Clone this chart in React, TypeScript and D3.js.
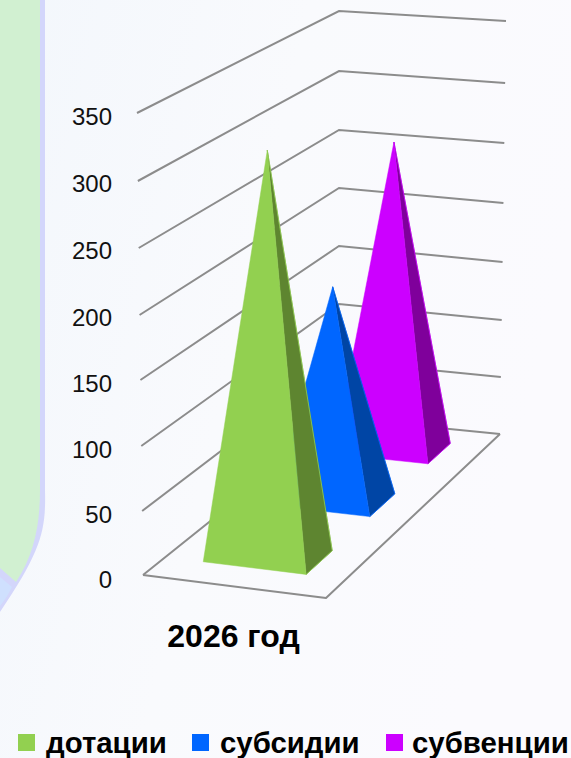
import React from "react";
import * as d3 from "d3";

const categoryLabel = "2026 год";
const seriesNames = ["дотации", "субсидии", "субвенции"];
const seriesValues = [312, 171, 257];
const seriesColors = ["#92D050", "#0066FF", "#CC00FF"];
const seriesShades = ["#5E8530", "#0045A5", "#7F009B"];
const axisTicks = [0, 50, 100, 150, 200, 250, 300, 350];
const depthSlots = [0.187, 0.54, 0.8575];
const depthHalf = [0.073, 0.07, 0.0625];
const apexU = [0.49, 0.49, 0.505];
const legendSwatchX = [18, 192, 386];
const legendTextX = [46, 220, 412];

// Where each axis tick falls on the edges of the box
const leftEdgeY = [575, 511, 446, 380, 315, 248, 181, 113];
const backEdgeY = [418, 361, 304, 246, 188, 130, 71, 11];
const rightEdgeY = [434, 377, 320, 262, 203, 143, 83, 21];
const tickLabelY = [579, 514, 449, 383, 317, 250, 183, 116];

const W = 571;
const H = 758;

const leftX = d3.scaleLinear().domain([0, 350]).range([143, 137]);
const leftY = d3.scaleLinear().domain(axisTicks).range(leftEdgeY);
const labelY = d3.scaleLinear().domain(axisTicks).range(tickLabelY);
const backX = d3.scaleLinear().domain([0, 350]).range([339, 339]);
const backY = d3.scaleLinear().domain(axisTicks).range(backEdgeY);
const rightX = d3.scaleLinear().domain([0, 350]).range([500, 506]);
const rightY = d3.scaleLinear().domain(axisTicks).range(rightEdgeY);

type P = [number, number];
const FL: P = [143, 575];
const FR: P = [326, 598];
const BR: P = [500, 434];
const BL: P = [339, 418];
const lerp = d3.interpolateNumber;

function floor(u: number, v: number): P {
  const fx = lerp(FL[0], FR[0])(u), fy = lerp(FL[1], FR[1])(u);
  const bx = lerp(BL[0], BR[0])(u), by = lerp(BL[1], BR[1])(u);
  return [lerp(fx, bx)(v), lerp(fy, by)(v)];
}
function pxPerUnit(u: number, v: number) {
  const f = lerp(462, 470)(u), b = lerp(407, 413)(u);
  return lerp(f, b)(v) / 350;
}

const colU: [number, number] = [0.21, 0.78];
const poly = (pts: P[]) => d3.line()(pts as any)! + "Z";

function pyramid(value: number, slot: number, half: number, uc: number) {
  const fl = floor(colU[0], slot - half);
  const fr = floor(colU[1], slot - half);
  const br = floor(colU[1], slot + half);
  const c = floor(uc, slot);
  const apex: P = [c[0], c[1] - value * pxPerUnit(uc, slot)];
  return { fl, fr, br, apex };
}

export default function App() {
  const order = d3.range(seriesValues.length).reverse();
  return (
    <svg
      width={W}
      height={H}
      viewBox={`0 0 ${W} ${H}`}
      style={{ position: "fixed", left: 0, top: 0, fontFamily: "'Liberation Sans', Arial, sans-serif" }}
    >
      <defs>
        <linearGradient id="bg" x1="0" y1="0" x2="1" y2="0.3">
          <stop offset="0" stopColor="#F3F7FC" />
          <stop offset="0.5" stopColor="#F9FAFD" />
          <stop offset="1" stopColor="#FBFAFE" />
        </linearGradient>
      </defs>
      <rect width={W} height={H} fill="url(#bg)" />

      {/* decorative panel at the left edge */}
      <path d="M-5,-5 L45,-5 L45,490 C46,530 42,550 0,612 L-5,620 Z" fill="#D3D6FB" />
      <path d="M-5,-5 L40,-5 L40,490 C40,525 34,555 16,582 L0,568 L-5,564 Z" fill="#D1F0D1" />
      <path d="M-5,574 L0,577 L12,587 C8,595 4,601 0,606 L-5,610 Z" fill="#CFE0FE" />

      {/* floor front and right edges */}
      <path d={d3.line()([FL, FR, BR] as any)!} fill="none" stroke="#8C8C8C" strokeWidth={2} strokeLinejoin="round" />
      {/* wall grid lines */}
      {axisTicks.map((t) => (
        <path
          key={t}
          d={d3.line()([
            [leftX(t), leftY(t)],
            [backX(t), backY(t)],
            [rightX(t), rightY(t)],
          ] as any)!}
          fill="none"
          stroke="#8C8C8C"
          strokeWidth={2}
        />
      ))}
      {/* axis labels */}
      {axisTicks.map((t) => (
        <text key={t} x={112} y={labelY(t) + 8.5} textAnchor="end" fontSize={24} fill="#111">
          {t}
        </text>
      ))}

      {/* pyramids, back to front */}
      {order.map((i) => {
        const p = pyramid(seriesValues[i], depthSlots[i], depthHalf[i], apexU[i]);
        return (
          <g key={seriesNames[i]}>
            <path d={poly([p.apex, p.fr, p.br])} fill={seriesShades[i]} stroke={seriesShades[i]} strokeWidth={0.5} />
            <path d={d3.line()([p.apex, p.br, p.fr] as any)!} fill="none" stroke={seriesColors[i]} strokeWidth={0.8} />
            <path d={poly([p.apex, p.fl, p.fr])} fill={seriesColors[i]} stroke={seriesColors[i]} strokeWidth={0.5} />
          </g>
        );
      })}

      <text x={233.5} y={647} textAnchor="middle" fontSize={32} fontWeight="bold" fill="#000">
        {categoryLabel}
      </text>

      {seriesNames.map((n, i) => (
        <g key={n}>
          <rect x={legendSwatchX[i]} y={734} width={17} height={17} fill={seriesColors[i]} />
          <text x={legendTextX[i]} y={753} fontSize={29.4} fontWeight="bold" fill="#000">
            {n}
          </text>
        </g>
      ))}
    </svg>
  );
}
